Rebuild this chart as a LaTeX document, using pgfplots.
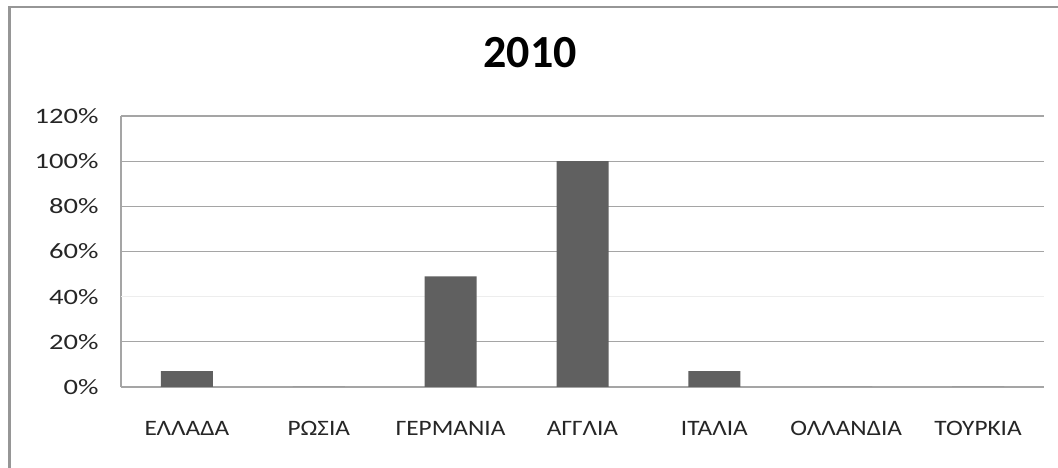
\documentclass[border=0pt]{standalone}
\usepackage{pgfplots}
\pgfplotsset{compat=1.18}
\usepackage{fontspec}
\setmainfont{Carlito}
\newfontfamily\xlabfont[FakeStretch=1.15]{Carlito}
\newfontfamily\ylabfont[FakeStretch=1.3]{Carlito}
\definecolor{barfill}{RGB}{96,96,96}
\definecolor{gridc}{RGB}{165,165,165}
\definecolor{framec}{RGB}{150,150,150}
\begin{document}
\begin{tikzpicture}
\useasboundingbox (0,0) rectangle (1058pt,468pt);
\fill[white] (0,0) rectangle (1058pt,468pt);
% outer chart frame (left and top edges visible)
\draw[framec, line width=2.5pt] (9.5pt,-2pt) -- (9.5pt,461pt) -- (1062pt,461pt);
\node[font=\fontsize{46}{50}\selectfont\bfseries] at (530pt,415pt) {2010};
\begin{axis}[
  at={(121pt,81pt)}, anchor=south west,
  scale only axis,
  width=923pt, height=271pt,
  ybar, bar width=52pt,
  xmin=-0.5, xmax=6.5,
  ymin=0, ymax=120,
  xtick={0,...,6},
  xticklabels={ΕΛΛΑΔΑ,ΡΩΣΙΑ,ΓΕΡΜΑΝΙΑ,ΑΓΓΛΙΑ,ΙΤΑΛΙΑ,ΟΛΛΑΝΔΙΑ,ΤΟΥΡΚΙΑ},
  ytick={0,20,60,80,100,120},
  yticklabels={0\%,20\%,60\%,80\%,100\%,120\%},
  extra y ticks={40},
  extra y tick labels={40\%},
  extra y tick style={grid style={color=black!7, line width=1.2pt}},
  ymajorgrids,
  grid style={gridc, line width=1.3pt},
  major tick length=0pt,
  axis x line*=bottom, axis y line*=left,
  axis line style={gridc, line width=1.3pt, -},
  xticklabel style={font=\xlabfont\fontsize{22}{25}\selectfont, text=black!85, yshift=-31pt},
  yticklabel style={font=\ylabfont\fontsize{22}{25}\selectfont, text=black!85, xshift=-19pt},
]
\addplot[fill=barfill, draw=none] coordinates {
  (0,7) (1,0) (2,49) (3,100) (4,7) (5,0) (6,0)
};
\end{axis}
\end{tikzpicture}
\end{document}
